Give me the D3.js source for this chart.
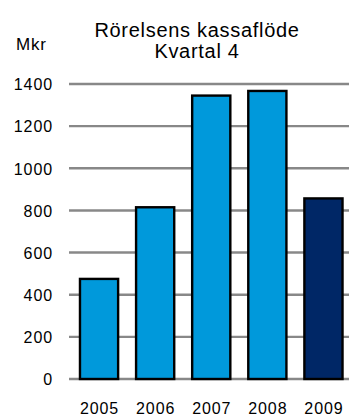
<!DOCTYPE html>
<html><head><meta charset="utf-8">
<script src="https://cdn.jsdelivr.net/npm/d3@7"></script>
<style>body{margin:0;background:#fff}svg{display:block}text{font-family:"Liberation Sans",Arial,sans-serif;fill:#000}</style>
</head><body>
<script>
const years = ["2005","2006","2007","2008","2009"];
const values = [475, 815, 1345, 1367, 857];
const barColors = ["#0099db","#0099db","#0099db","#0099db","#002766"];
const yTicks = [0,200,400,600,800,1000,1200,1400];
const titleLines = ["Rörelsens kassaflöde","Kvartal 4"];
const unitLabel = "Mkr";

const W = 349, H = 417;
const svg = d3.select("body").append("svg").attr("width", W).attr("height", H);

const y = d3.scaleLinear().domain([0,1400]).range([379,84]);
const x = d3.scaleBand().domain(years).range([71, 351.5]).paddingInner(0.32).paddingOuter(0.16);

// gridlines
svg.append("g").selectAll("line").data(yTicks).join("line")
  .attr("x1", 69).attr("x2", W)
  .attr("y1", d => y(d)).attr("y2", d => y(d))
  .attr("stroke", "#888").attr("stroke-width", 2.4);

// y labels
svg.append("g").selectAll("text").data(yTicks).join("text")
  .attr("x", 53).attr("y", d => y(d) + 6.3)
  .attr("text-anchor", "end").attr("font-size", 16).attr("letter-spacing", 0.9)
  .text(d => d);

// bars
svg.append("g").selectAll("rect").data(values).join("rect")
  .attr("x", (d,i) => x(years[i]))
  .attr("width", x.bandwidth())
  .attr("y", d => y(d))
  .attr("height", d => y(0) - y(d))
  .attr("fill", (d,i) => barColors[i])
  .attr("stroke", "#000").attr("stroke-width", 2.4);

// x labels
svg.append("g").selectAll("text").data(years).join("text")
  .attr("x", d => x(d) + x.bandwidth()/2 + 0.5).attr("y", 414)
  .attr("text-anchor", "middle").attr("font-size", 16).attr("letter-spacing", 0.9)
  .text(d => d);

// title
svg.append("g").selectAll("text").data(titleLines).join("text")
  .attr("x", 197).attr("y", (d,i) => 37.3 + i*20.4)
  .attr("text-anchor", "middle").attr("font-size", 20).attr("letter-spacing", 0.7)
  .text(d => d);

// unit
svg.append("text").attr("x", 16).attr("y", 49.5)
  .attr("font-size", 17).attr("letter-spacing", 0.8)
  .text(unitLabel);
</script>
</body></html>
